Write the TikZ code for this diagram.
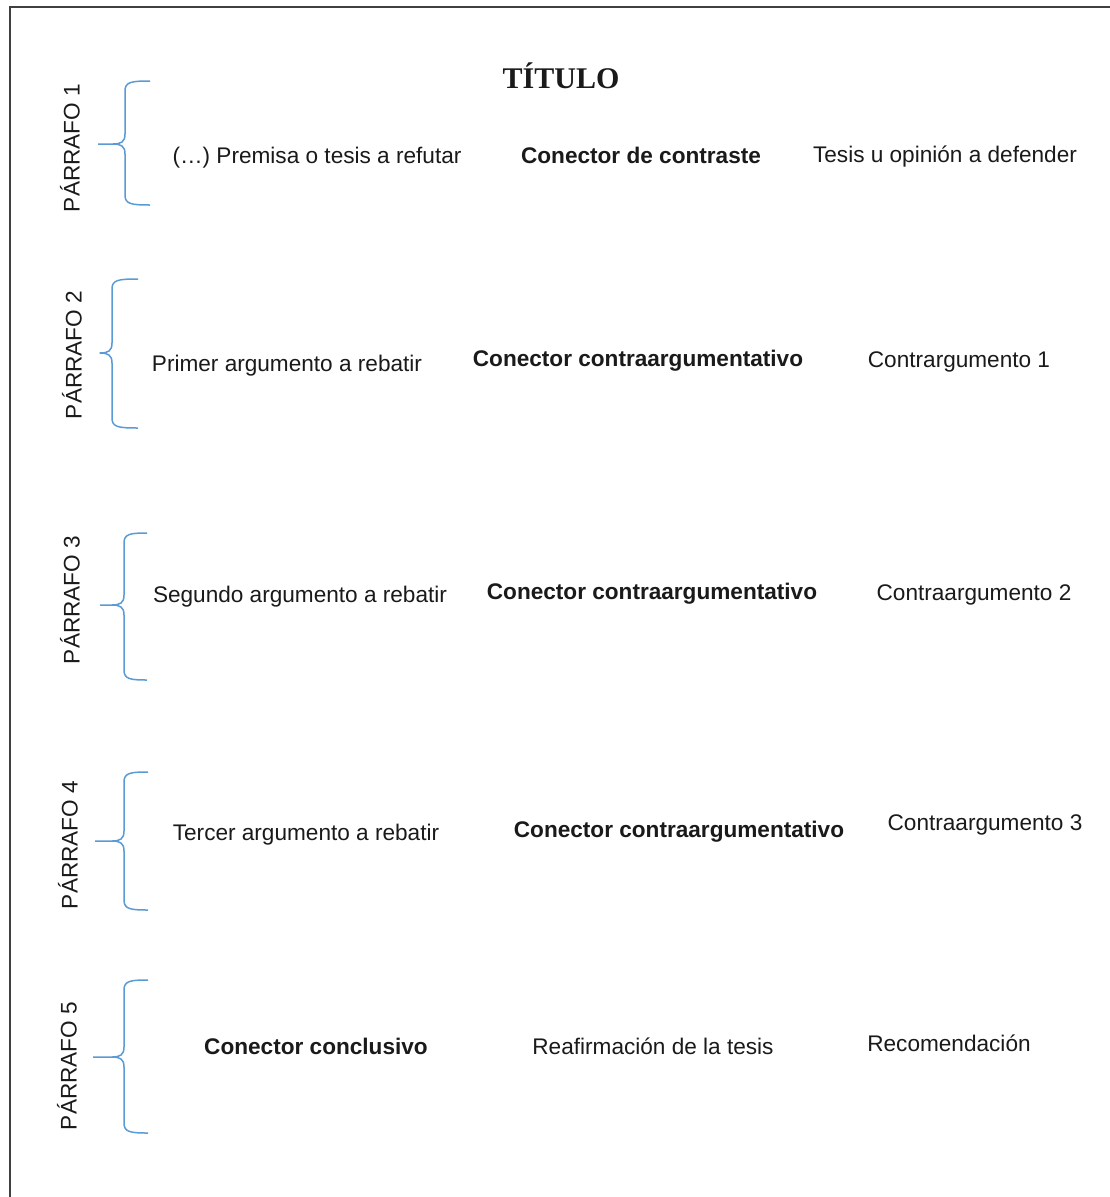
\documentclass[tikz,border=0pt]{standalone}
\usepackage{fontspec}
\setmainfont{Liberation Sans}
\newfontfamily\titlefont{Liberation Serif}
\definecolor{bracecol}{HTML}{5B9BD5}
\definecolor{txtcol}{HTML}{1A1A1A}
\definecolor{framecol}{HTML}{404040}
\newcommand{\mybrace}[7]{% r, v, top, bottom, tipx, tipy, name
  \draw[bracestyle] (#1,#3) .. controls (#2+6,#3) and (#2,#3+1) .. (#2,#3+10)
    -- (#2,#6-10) .. controls (#2,#6-2) and (#2-4,#6) .. (#2-12,#6) -- (#5,#6)
    coordinate (#7)
    (#5,#6) -- (#2-12,#6) .. controls (#2-4,#6) and (#2,#6+2) .. (#2,#6+10)
    -- (#2,#4-10) .. controls (#2,#4-1) and (#2+6,#4) .. (#1,#4);}
\begin{document}
\begin{tikzpicture}[x=1pt,y=-1pt,
  bracestyle/.style={draw=bracecol,line width=1.5pt,line join=round},
  lbl/.style={font=\fontsize{22.6}{27}\selectfont,text=txtcol,inner sep=0pt,anchor=center},
  blbl/.style={lbl,font=\fontsize{22.6}{27}\selectfont\bfseries},
  plbl/.style={lbl,rotate=90}]
\useasboundingbox (0,0) rectangle (1110,1197);
\fill[white] (0,0) rectangle (1110,1197);
\draw[framecol,line width=1.8pt] (10,1197) -- (10,7) -- (1110,7);
\node[inner sep=0pt,text=txtcol,font=\fontsize{30}{36}\selectfont\titlefont\bfseries] (title) at (561,76) {TÍTULO};
% braces
\mybrace{150}{125}{81}{205}{98}{144}{b1}
\mybrace{138}{112}{279}{428}{102}{353}{b2}
\mybrace{147}{124}{533}{680}{100}{605}{b3}
\mybrace{148}{124}{772}{910}{95}{841}{b4}
\mybrace{148}{124}{980}{1133}{93}{1057}{b5}
% paragraph labels
\node[plbl] (p1) at (70,148) {PÁRRAFO 1};
\node[plbl] (p2) at (72,355) {PÁRRAFO 2};
\node[plbl] (p3) at (70,600) {PÁRRAFO 3};
\node[plbl] (p4) at (68,845) {PÁRRAFO 4};
\node[plbl] (p5) at (67,1066) {PÁRRAFO 5};
% row 1
\node[lbl] (r1a) at (317,158) {(…) Premisa o tesis a refutar};
\node[blbl] (r1b) at (641,155) {Conector de contraste};
\node[lbl] (r1c) at (945,157) {Tesis u opinión a defender};
% row 2
\node[lbl] (r2a) at (287,366) {Primer argumento a rebatir};
\node[blbl] (r2b) at (638,361) {Conector contraargumentativo};
\node[lbl] (r2c) at (959,362) {Contrargumento 1};
% row 3
\node[lbl] (r3a) at (300,597) {Segundo argumento a rebatir};
\node[blbl] (r3b) at (652,594) {Conector contraargumentativo};
\node[lbl] (r3c) at (974,595) {Contraargumento 2};
% row 4
\node[lbl] (r4a) at (306,835) {Tercer argumento a rebatir};
\node[blbl] (r4b) at (679,832) {Conector contraargumentativo};
\node[lbl] (r4c) at (985,825) {Contraargumento 3};
% row 5
\node[blbl] (r5a) at (316,1046) {Conector conclusivo};
\node[lbl] (r5b) at (653,1046) {Reafirmación de la tesis};
\node[lbl] (r5c) at (949,1043) {Recomendación};
\end{tikzpicture}
\end{document}
